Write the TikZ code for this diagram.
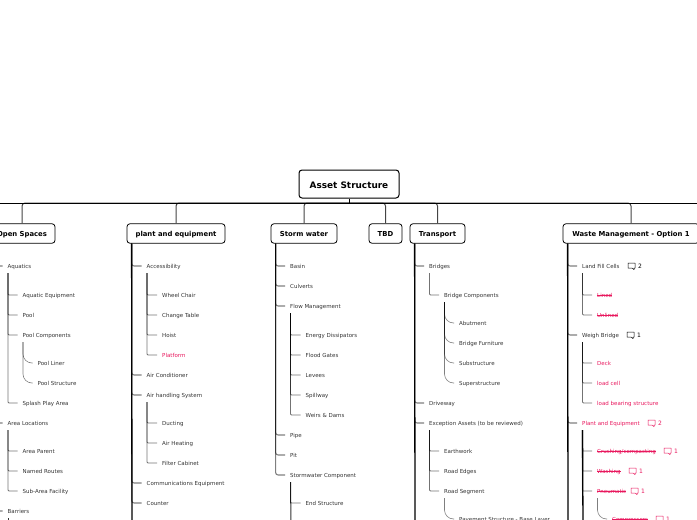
\documentclass[tikz,border=0pt]{standalone}
\usepackage{fontspec}
\setmainfont{DejaVu Sans}
\usetikzlibrary{calc}
\definecolor{mapText}{HTML}{333333}
\definecolor{mapPink}{HTML}{E8175D}
\definecolor{mapStem}{HTML}{444444}
\newcommand{\strk}[1]{\setbox0\hbox{#1}\rlap{\rule[1.9pt]{\wd0}{0.3pt}}\box0}

\begin{document}
\begin{tikzpicture}[
  x=1pt, y=-1pt,
  every node/.style={font=\fontsize{5.5}{6.5}\selectfont},
  rootbox/.style={draw=black, line width=1pt, rounded corners=3pt, fill=white,
    minimum height=28pt, minimum width=100pt, inner sep=0pt, text height=8pt, text depth=0pt,
    font=\fontsize{8.9}{10}\selectfont\bfseries},
  topicbox/.style={draw=black, line width=0.8pt, rounded corners=3pt, fill=white,
    minimum height=19.5pt, inner sep=0pt, text height=6pt, text depth=0pt,
    font=\fontsize{6.85}{8}\selectfont\bfseries},
  item/.style={anchor=west, inner xsep=5pt, inner ysep=0pt, minimum height=14pt,
    text height=5pt, text depth=1pt, text=mapText},
  pinkitem/.style={item, text=mapPink},
  trunk/.style={black, line width=1pt},
  stem/.style={draw=mapStem, line width=1pt, rounded corners=3pt},
  spineA/.style={black, opacity=0.5, line width=1.1pt, rounded corners=2.5pt},
  spineB/.style={black, opacity=0.55, line width=0.8pt, rounded corners=1pt},
  spineC/.style={black, opacity=0.5, line width=0.6pt, rounded corners=9pt},
  spineD/.style={black, opacity=0.3, line width=1.2pt, rounded corners=1pt},
  solidA/.style={black, line width=1.3pt},
  solidB/.style={black, opacity=0.8, line width=1pt},
]
\useasboundingbox (0,0) rectangle (697,520);

% Free ends beyond the page
\coordinate (trunkW) at (-10,203);
\coordinate (trunkE) at (710,203);

% Root and topics
\node[rootbox] (root) at (349,184) {Asset Structure};
\node[topicbox, minimum width=66pt] (open) at (22,233.5) {Open Spaces};
\node[topicbox, minimum width=98pt] (plant) at (176,233.5) {plant and equipment};
\node[topicbox, minimum width=66pt] (storm) at (304,233.5) {Storm water};
\node[topicbox, minimum width=33pt] (tbd) at (385.5,233.5) {TBD};
\node[topicbox, minimum width=55pt] (transport) at (437.5,233.5) {Transport};
\node[topicbox, minimum width=136pt] (waste) at (631,233.5) {Waste Management - Option 1};

% Open Spaces
\node[item] (aquatics) at (2.5,266) {Aquatics};
\node[item] (aqEquip) at (17.5,295) {Aquatic Equipment};
\node[item] (pool) at (17.5,315) {Pool};
\node[item] (poolComp) at (17.5,335) {Pool Components};
\node[item] (poolLiner) at (32.5,363) {Pool Liner};
\node[item] (poolStruct) at (32.5,383) {Pool Structure};
\node[item] (splash) at (17.5,403) {Splash Play Area};
\node[item] (areaLoc) at (2.5,423) {Area Locations};
\node[item] (areaParent) at (17.5,451) {Area Parent};
\node[item] (routes) at (17.5,471) {Named Routes};
\node[item] (subArea) at (17.5,491) {Sub-Area Facility};
\node[item] (barriers) at (2.5,511) {Barriers};

% plant and equipment
\node[item] (access) at (141.5,266) {Accessibility};
\node[item] (chair) at (157,295) {Wheel Chair};
\node[item] (change) at (157,315) {Change Table};
\node[item] (hoist) at (157,335) {Hoist};
\node[pinkitem] (platform) at (157,355) {Platform};
\node[item] (aircon) at (141.5,375) {Air Conditioner};
\node[item] (airhand) at (141.5,395) {Air handling System};
\node[item] (ducting) at (157,423) {Ducting};
\node[item] (heating) at (157,443) {Air Heating};
\node[item] (filter) at (157,463) {Filter Cabinet};
\node[item] (comms) at (141.5,483) {Communications Equipment};
\node[item] (counter) at (141.5,503) {Counter};

% Storm water
\node[item] (basin) at (285,266) {Basin};
\node[item] (culverts) at (285,286) {Culverts};
\node[item] (flow) at (285,306) {Flow Management};
\node[item] (energy) at (300.5,335) {Energy Dissipators};
\node[item] (flood) at (300.5,355) {Flood Gates};
\node[item] (levees) at (300.5,375) {Levees};
\node[item] (spillway) at (300.5,395) {Spillway};
\node[item] (weirs) at (300.5,415) {Weirs \& Dams};
\node[item] (pipe) at (285,435) {Pipe};
\node[item] (pit) at (285,455) {Pit};
\node[item] (swComp) at (285,475) {Stormwater Component};
\node[item] (endStruct) at (300.5,503) {End Structure};

% Transport
\node[item] (bridges) at (424,266) {Bridges};
\node[item] (brComp) at (439,295) {Bridge Components};
\node[item] (abutment) at (454,323) {Abutment};
\node[item] (brFurn) at (454,343) {Bridge Furniture};
\node[item] (substr) at (454,363) {Substructure};
\node[item] (superstr) at (454,383) {Superstructure};
\node[item] (driveway) at (424,403) {Driveway};
\node[item] (except) at (424,423) {Exception Assets (to be reviewed)};
\node[item] (earth) at (439,451) {Earthwork};
\node[item] (edges) at (439,471) {Road Edges};
\node[item] (segment) at (439,491) {Road Segment};
\node[item] (pavement) at (454,519) {Pavement Structure - Base Layer};

% Waste Management
\node[item] (landfill) at (577,266) {Land Fill Cells};
\node[pinkitem] (lined) at (592,295) {\strk{Lined}};
\node[pinkitem] (unlined) at (592,315) {\strk{Unlined}};
\node[item] (weigh) at (577,335) {Weigh Bridge};
\node[pinkitem] (deck) at (592,363) {Deck};
\node[pinkitem] (loadcell) at (592,383) {load cell};
\node[pinkitem] (loadbear) at (592,403) {load bearing structure};
\node[pinkitem] (wastePlant) at (577,423) {Plant and Equipment};
\node[pinkitem] (crushing) at (592,451) {\strk{Crushing/compacting}};
\node[pinkitem] (washing) at (592,471) {\strk{Washing}};
\node[pinkitem] (pneumatic) at (592,491) {\strk{Pneumatic}};
\node[pinkitem] (compress) at (607,519) {\strk{Compressors}};

% Free ends of the spines that run off the page
\coordinate (plantEnd) at (132,525);
\coordinate (transportEnd) at (415,525);
\coordinate (wasteEnd) at (568,525);
\coordinate (swEnd) at (291,525);
\coordinate (barrierEnd) at (8,525);
\coordinate (wastePlantEnd) at (583,525);

% Trunk
\foreach \b in {open,plant,storm,tbd,transport,waste}
  \draw[stem] (root.south |- trunkW) -| (\b.north);
\draw[trunk] (root.south) -- (root.south |- trunkW);
\draw[trunk] (trunkW) -- (trunkE);

% Spines of the topics
\foreach \p/\c in {open/aquatics,open/areaLoc,open/barriers,
    plant/access,plant/aircon,plant/airhand,plant/comms,plant/counter,
    storm/basin,storm/culverts,storm/flow,storm/pipe,storm/pit,storm/swComp,
    transport/bridges,transport/driveway,transport/except,
    waste/landfill,waste/weigh,waste/wastePlant}
  \draw[spineA] ($(\p.south west)+(5,0)$) |- (\c.west);
\draw[solidA] ($(plant.south west)+(5,0)$) -- (plantEnd);
\draw[solidA] ($(transport.south west)+(5,0)$) -- (transportEnd);
\draw[solidA] ($(waste.south west)+(5,0)$) -- (wasteEnd);

% Second level
\foreach \p/\c in {aquatics/aqEquip,aquatics/pool,aquatics/poolComp,aquatics/splash,
    areaLoc/areaParent,areaLoc/routes,areaLoc/subArea,
    access/chair,access/change,access/hoist,access/platform,
    airhand/ducting,airhand/heating,airhand/filter,
    flow/energy,flow/flood,flow/levees,flow/spillway,flow/weirs,
    swComp/endStruct,bridges/brComp,
    except/earth,except/edges,except/segment,
    landfill/lined,landfill/unlined,weigh/deck,weigh/loadcell,weigh/loadbear}
  \draw[spineB] ($(\p.south west)+(5.5,0)$) |- (\c.west);
\foreach \c in {crushing,washing,pneumatic}
  \draw[spineD] ($(wastePlant.south west)+(5.5,0)$) |- (\c.west);
\draw[solidB] ($(swComp.south west)+(5.5,0)$) -- (swEnd);
\draw[solidB] ($(barriers.south west)+(5.5,0)$) -- (barrierEnd);
\draw[solidA] ($(wastePlant.south west)+(5.5,0)$) -- (wastePlantEnd);

% Third level
\foreach \p/\c in {poolComp/poolLiner,poolComp/poolStruct,
    brComp/abutment,brComp/brFurn,brComp/substr,brComp/superstr,
    segment/pavement,pneumatic/compress}
  \draw[spineC] ($(\p.south west)+(5.5,0)$) |- (\c.west);

% Comment marks
\foreach \x/\y/\n/\c in {628/266/2/black,627/335/1/black,648/423/2/mapPink,
    664/451/1/mapPink,629/471/1/mapPink,631/491/1/mapPink,656/519/1/mapPink} {
  \draw[\c, line width=0.5pt, line join=round] (\x,\y-3) -- ++(7,0) -- ++(0,5) -- ++(-1,0)
    -- ++(0,1.6) -- ++(-2,-1.6) -- ++(-4,0) -- cycle;
  \node[text=\c, font=\fontsize{6}{7}\selectfont, inner sep=0pt, anchor=west] at (\x+10,\y) {\n};
}

\end{tikzpicture}
\end{document}
